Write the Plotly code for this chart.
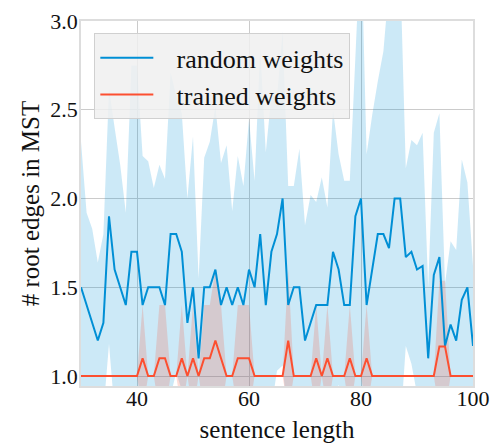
import plotly.graph_objects as go

# sentence lengths
lengths = list(range(30, 101))

# random weights: mean and std of # root edges in MST
random_mean = [
    1.5, 1.4, 1.3, 1.2, 1.3, 1.9, 1.6, 1.5, 1.4, 1.7,   # 30-39
    1.7, 1.4, 1.5, 1.5, 1.5, 1.4, 1.8, 1.8, 1.7, 1.3,   # 40-49
    1.5, 1.1, 1.5, 1.5, 1.6, 1.4, 1.5, 1.4, 1.5, 1.4,   # 50-59
    1.6, 1.5, 1.8, 1.4, 1.7, 1.8, 2.0, 1.4, 1.5, 1.5,   # 60-69
    1.2, 1.3, 1.4, 1.4, 1.4, 1.7, 1.6, 1.4, 1.4, 1.9,   # 70-79
    2.0, 1.4, 1.6, 1.8, 1.8, 1.72, 2.0, 2.0, 1.67, 1.7,  # 80-89
    1.6, 1.62, 1.1, 1.57, 1.67, 1.17, 1.29, 1.2, 1.43, 1.5,  # 90-99
    1.17,                                               # 100
]
random_std = [
    0.82, 0.52, 0.53, 0.44, 0.50, 0.72, 0.80, 0.69, 0.52, 1.05,
    1.05, 0.84, 0.71, 0.56, 0.69, 0.71, 0.91, 0.78, 0.78, 0.70,
    0.85, 0.45, 0.73, 0.82, 0.92, 0.80, 0.80, 0.53, 0.74, 0.67,
    0.85, 0.60, 1.05, 0.86, 0.88, 0.77, 0.94, 0.67, 0.57, 0.78,
    0.65, 0.72, 0.58, 0.72, 0.55, 0.80, 0.65, 0.70, 0.70, 1.00,
    1.50, 0.85, 0.87, 0.86, 1.03, 1.48, 1.30, 1.30, 0.50, 0.63,
    0.70, 0.75, 0.40, 0.80, 0.81, 0.35, 0.47, 0.51, 0.79, 0.59,
    0.45,
]

# trained weights: mean and std
trained_mean = [
    1.0, 1.0, 1.0, 1.0, 1.0, 1.0, 1.0, 1.0, 1.0, 1.0,
    1.0, 1.1, 1.0, 1.0, 1.1, 1.1, 1.0, 1.0, 1.1, 1.0,
    1.1, 1.0, 1.1, 1.1, 1.2, 1.1, 1.0, 1.0, 1.1, 1.1,
    1.1, 1.0, 1.0, 1.0, 1.0, 1.0, 1.0, 1.2, 1.0, 1.0,
    1.0, 1.0, 1.1, 1.0, 1.1, 1.0, 1.0, 1.0, 1.1, 1.0,
    1.0, 1.1, 1.0, 1.0, 1.0, 1.0, 1.0, 1.0, 1.0, 1.0,
    1.0, 1.0, 1.0, 1.0, 1.167, 1.167, 1.0, 1.0, 1.0, 1.0,
    1.0,
]
trained_std = [
    0, 0, 0, 0, 0, 0, 0, 0, 0, 0,
    0, 0.3, 0, 0, 0.3, 0.3, 0, 0, 0.3, 0,
    0.3, 0, 0.3, 0.3, 0.4, 0.3, 0, 0, 0.3, 0.3,
    0.3, 0, 0, 0, 0, 0, 0, 0.4, 0, 0,
    0, 0, 0.3, 0, 0.3, 0, 0, 0, 0.3, 0,
    0, 0.3, 0, 0, 0, 0, 0, 0, 0, 0,
    0, 0, 0, 0, 0.37, 0.37, 0, 0, 0, 0,
    0,
]

y_ticks = [1.0, 1.5, 2.0, 2.5, 3.0]
x_ticks = [40, 60, 80, 100]

BLUE = "#008fd5"
RED = "#fc4f30"
FONT = "Liberation Serif"
INK = "#111"

r_lo = [m - s for m, s in zip(random_mean, random_std)]
r_hi = [m + s for m, s in zip(random_mean, random_std)]
t_lo = [m - s for m, s in zip(trained_mean, trained_std)]
t_hi = [m + s for m, s in zip(trained_mean, trained_std)]

fig = go.Figure()
fig.add_trace(go.Scatter(x=lengths, y=r_lo, mode="lines", line=dict(width=0),
                         showlegend=False, hoverinfo="skip"))
fig.add_trace(go.Scatter(x=lengths, y=r_hi, mode="lines", line=dict(width=0),
                         fill="tonexty", fillcolor="rgba(0,143,213,0.2)",
                         showlegend=False, hoverinfo="skip"))
fig.add_trace(go.Scatter(x=lengths, y=t_lo, mode="lines", line=dict(width=0),
                         showlegend=False, hoverinfo="skip"))
fig.add_trace(go.Scatter(x=lengths, y=t_hi, mode="lines", line=dict(width=0),
                         fill="tonexty", fillcolor="rgba(252,79,48,0.2)",
                         showlegend=False, hoverinfo="skip"))
fig.add_trace(go.Scatter(x=lengths, y=random_mean, mode="lines",
                         line=dict(color=BLUE, width=2),
                         name="\u2002\u2009random weights", legendgroup="a"))
fig.add_trace(go.Scatter(x=lengths, y=trained_mean, mode="lines",
                         line=dict(color=RED, width=2),
                         name="\u2002\u2009trained weights", legendgroup="b"))

fig.update_layout(
    width=494, height=443,
    margin=dict(l=81, r=21, t=21, b=57),
    paper_bgcolor="white", plot_bgcolor="white",
    font=dict(family=FONT, size=22, color=INK),
    showlegend=True,
    legend=dict(
        x=0.034, y=0.966, xanchor="left", yanchor="top",
        bgcolor="rgba(240,240,240,0.85)", bordercolor="#d0d0d0", borderwidth=1,
        font=dict(family=FONT, size=26, color=INK),
        tracegroupgap=0, traceorder="grouped", itemwidth=53,
    ),
)
fig.update_xaxes(
    range=[30, 100], tickvals=x_ticks, ticktext=[str(v) for v in x_ticks],
    tickfont=dict(family=FONT, size=22, color=INK),
    ticklabelstandoff=-8,
    showgrid=True, gridcolor="#cbcbcb", gridwidth=1,
    showline=True, linecolor="#dddddd", linewidth=1.5, mirror=True,
    zeroline=False, ticks="",
    title=dict(text="sentence length", standoff=11,
               font=dict(family=FONT, size=25, color=INK)),
    automargin=False,
)
fig.update_yaxes(
    range=[0.944, 3.0], tickvals=y_ticks, ticktext=[f"{v:.1f}" for v in y_ticks],
    tickfont=dict(family=FONT, size=22, color=INK),
    ticklabelstandoff=-3,
    showgrid=True, gridcolor="#cbcbcb", gridwidth=1,
    showline=True, linecolor="#dddddd", linewidth=1.5, mirror=True,
    zeroline=False, ticks="",
    title=dict(text="# root edges in MST", standoff=4,
               font=dict(family=FONT, size=25, color=INK)),
    automargin=False,
)

fig.write_html("out.html")
